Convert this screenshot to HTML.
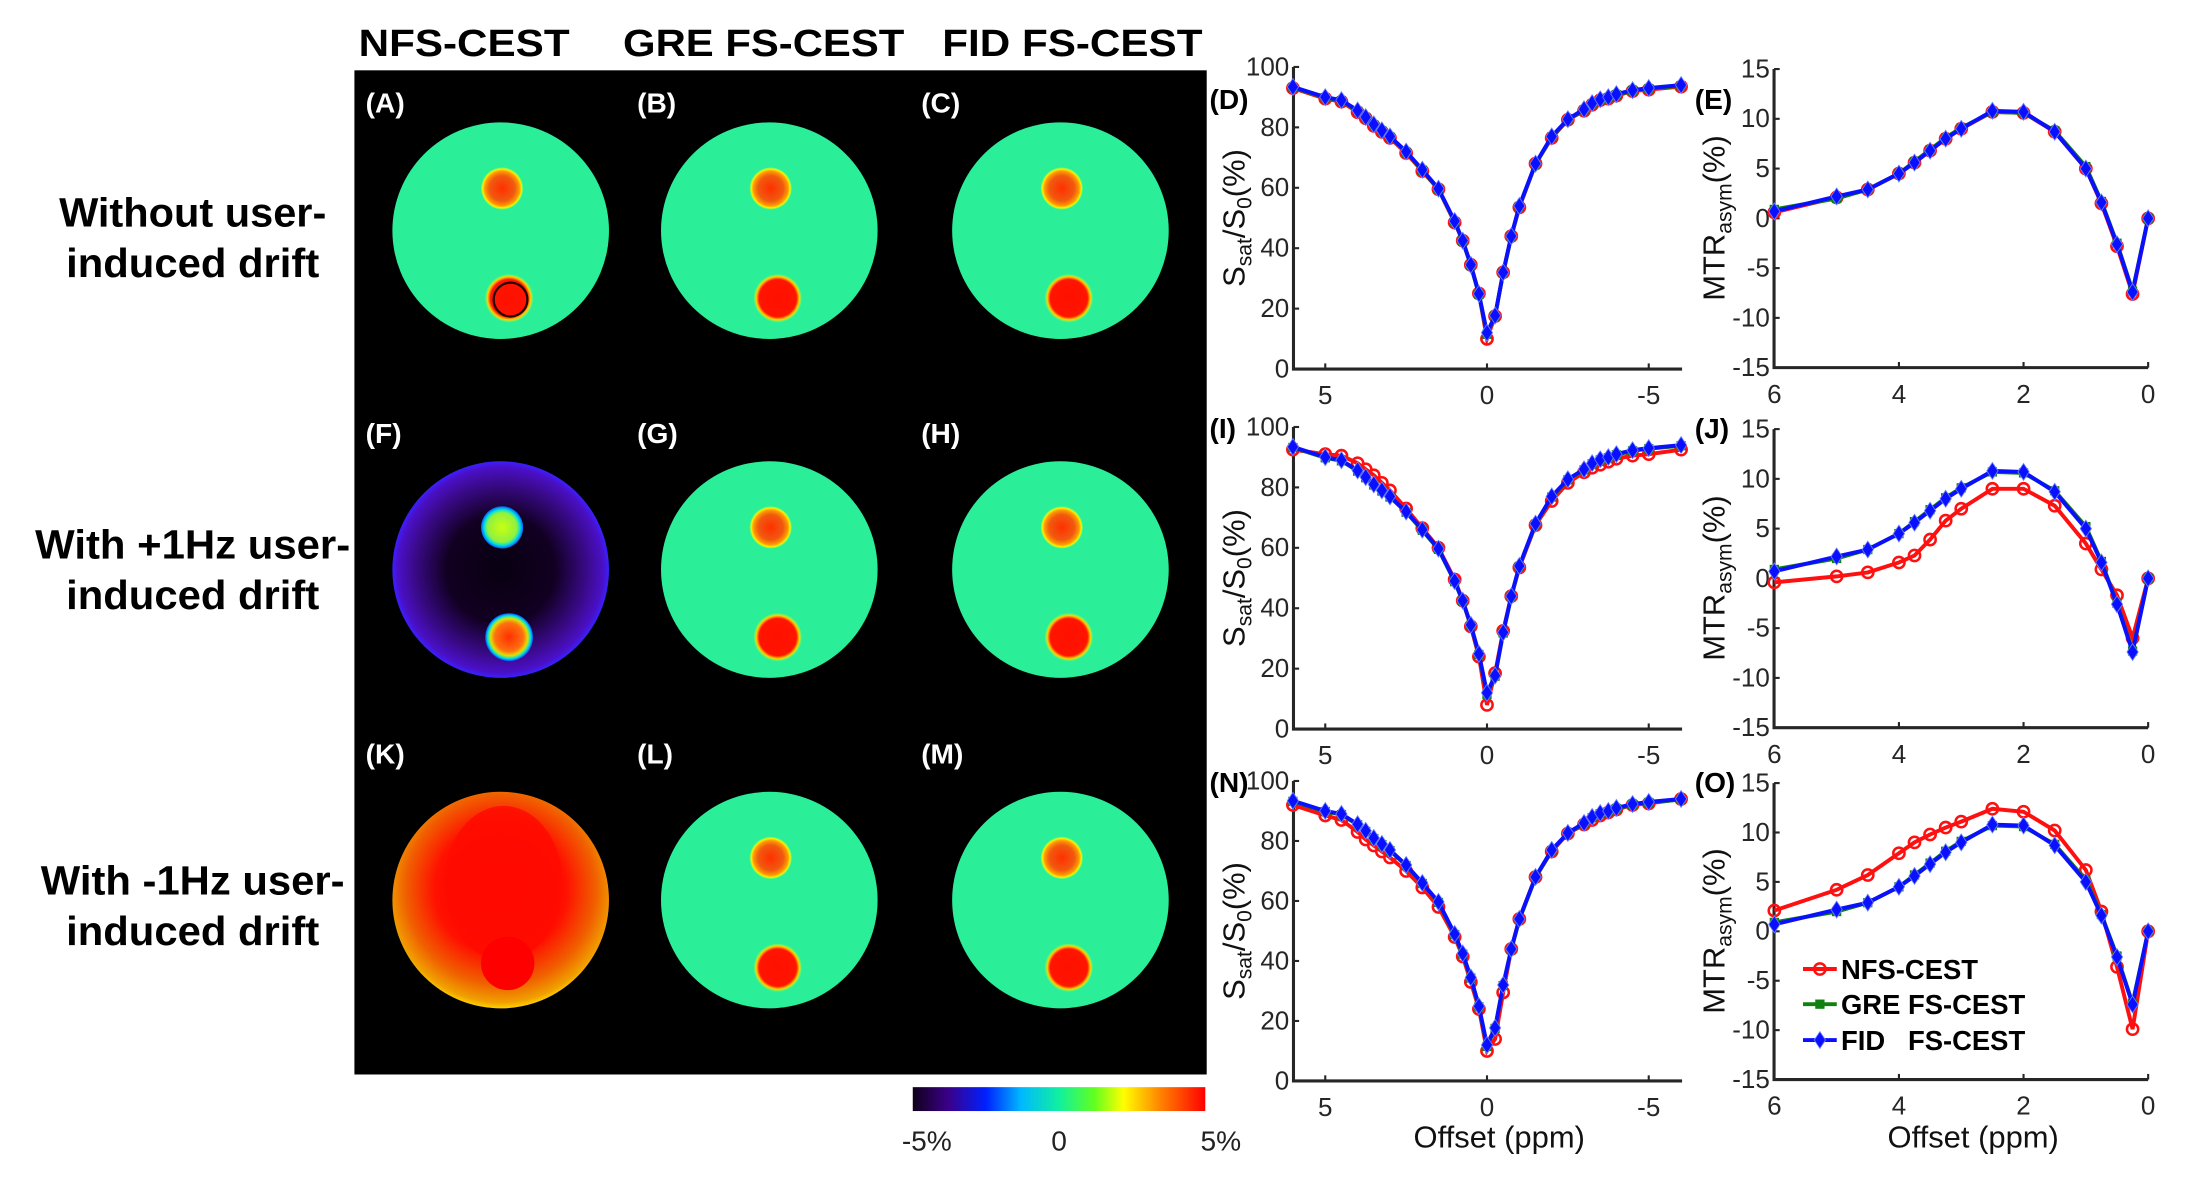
<!DOCTYPE html>
<html><head><meta charset="utf-8"><style>
html,body{margin:0;padding:0;background:#fff;}
svg{display:block;font-family:"Liberation Sans",Arial,sans-serif;}
</style></head><body>
<svg id="fig" width="2194" height="1178" viewBox="0 0 1560 837.6" preserveAspectRatio="none" xmlns="http://www.w3.org/2000/svg">
<defs>
<linearGradient id="cbar" x1="0" x2="1" y1="0" y2="0">
<stop offset="0" stop-color="#10001a"/><stop offset="0.12" stop-color="#3a0088"/><stop offset="0.25" stop-color="#0020ff"/><stop offset="0.37" stop-color="#00b8ff"/><stop offset="0.5" stop-color="#10f0a0"/><stop offset="0.62" stop-color="#60ff20"/><stop offset="0.72" stop-color="#ffff00"/><stop offset="0.85" stop-color="#ff8000"/><stop offset="1" stop-color="#ff0000"/>
</linearGradient>
<radialGradient id="spotTop"><stop offset="0" stop-color="#ff3000"/><stop offset="0.6" stop-color="#f05a10"/><stop offset="0.82" stop-color="#ff9a00"/><stop offset="0.92" stop-color="#ffee00"/><stop offset="1" stop-color="#30ff90"/></radialGradient>
<radialGradient id="spotBot"><stop offset="0" stop-color="#ff1000"/><stop offset="0.78" stop-color="#ff1500"/><stop offset="0.9" stop-color="#ffd000"/><stop offset="1" stop-color="#30ff90"/></radialGradient>
<radialGradient id="purple"><stop offset="0" stop-color="#080010"/><stop offset="0.5" stop-color="#120022"/><stop offset="0.8" stop-color="#3a0a8a"/><stop offset="0.95" stop-color="#4a10c8"/><stop offset="1" stop-color="#3a20ff"/></radialGradient>
<radialGradient id="fspotT"><stop offset="0" stop-color="#c8ff10"/><stop offset="0.7" stop-color="#90f040"/><stop offset="0.85" stop-color="#00e0e0"/><stop offset="1" stop-color="#0060ff"/></radialGradient>
<radialGradient id="fspotB"><stop offset="0" stop-color="#ff3000"/><stop offset="0.6" stop-color="#ff7010"/><stop offset="0.78" stop-color="#e0e000"/><stop offset="0.9" stop-color="#00e0e0"/><stop offset="1" stop-color="#0050ff"/></radialGradient>
<radialGradient id="orange" cx="0.5" cy="0.45" r="0.55"><stop offset="0" stop-color="#ff0000"/><stop offset="0.55" stop-color="#ff1000"/><stop offset="0.8" stop-color="#f06000"/><stop offset="0.95" stop-color="#f0a000"/><stop offset="1" stop-color="#ffd000"/></radialGradient>
</defs>
<rect x="0" y="0" width="1560" height="837.6" fill="#fff"/>
<rect x="252" y="50" width="606" height="714" fill="#000"/>
<g id="maps"></g>
<g id="labels"></g>
<g id="plots"></g>
</svg>
<script>
// ---------------- chart data ----------------
const zOffsets = [6,5,4.5,4,3.75,3.5,3.25,3,2.5,2,1.5,1,0.75,0.5,0.25,0,-0.25,-0.5,-0.75,-1,-1.5,-2,-2.5,-3,-3.25,-3.5,-3.75,-4,-4.5,-5,-6];
const mtrOffsets = [6,5,4.5,4,3.75,3.5,3.25,3,2.5,2,1.5,1,0.75,0.5,0.25,0];
const zFid = [93.4,90,89,85.6,83.4,81,79,77,72,66,59.7,49,42.5,34.5,24.9,12,17.7,32,44,54,68,77,82.7,86,88,89.3,90,91,92.3,93,94];
const zGre = [93.2,89.8,88.8,85.4,83.2,80.8,78.8,76.8,71.8,65.8,59.5,48.8,42.3,34.3,24.7,11.5,17.5,31.8,43.8,53.8,67.8,76.8,82.5,85.8,87.8,89.1,89.8,90.8,92.1,92.8,93.8];
const zNfsRow1 = [93,89.5,88.5,85,83,80.5,78.5,76.5,71.5,65.5,59.5,48.5,42.5,34.5,25,10,17.5,32,44,53.5,68,76.5,82.5,85.5,87.5,89,89.5,90.5,92,92.5,93.5];
const zNfsRow2 = [92.5,91,90.5,88,86,84,81.5,79,73,66.5,60,49.5,42.5,34,24,8,18.5,32.5,44,53.5,67.5,75.5,81.5,85,86.5,87.5,88.5,89.5,90.5,91,92.5];
const zNfsRow3 = [92,88.5,87,83,80.5,78.5,76.5,74.5,70,64.5,58,48,41.5,33,24,10,14,29.5,44,54,68,76.5,82.5,85.5,87,88.5,89.5,90.5,92,92.5,94];
const mtrFid = [0.7,2.2,2.9,4.5,5.6,6.8,8,9,10.8,10.7,8.7,5,1.6,-2.6,-7.4,0];
const mtrGre = [0.9,2,2.9,4.5,5.7,6.9,8.1,9.1,10.7,10.6,8.8,5.2,1.7,-2.5,-7.3,0];
const mtrNfsRow1 = [0.6,2.1,2.9,4.5,5.6,6.8,8,9,10.7,10.6,8.7,5,1.5,-2.8,-7.6,0];
const mtrNfsRow2 = [-0.4,0.2,0.6,1.6,2.3,3.9,5.8,7,9,9,7.3,3.5,0.9,-1.7,-6,0];
const mtrNfsRow3 = [2.1,4.2,5.7,7.9,9,9.8,10.5,11.1,12.4,12.1,10.2,6.2,2,-3.6,-9.9,0];
const zTicks = [0,20,40,60,80,100];
const zXTicks = [5,0,-5];
const mtrTicks = [-15,-10,-5,0,5,10,15];
const mtrXTicks = [6,4,2,0];
const seriesNames = ['NFS-CEST','GRE FS-CEST','FID   FS-CEST'];
const zRows = [[zNfsRow1,zGre,zFid],[zNfsRow2,zGre,zFid],[zNfsRow3,zGre,zFid]];
const mtrRows = [[mtrNfsRow1,mtrGre,mtrFid],[mtrNfsRow2,mtrGre,mtrFid],[mtrNfsRow3,mtrGre,mtrFid]];

const NS='http://www.w3.org/2000/svg';
function mk(tag,attrs,parent){const e=document.createElementNS(NS,tag);for(const k in attrs)e.setAttribute(k,attrs[k]);if(parent)parent.appendChild(e);return e;}

// ---------------- maps ----------------
const maps=document.getElementById('maps');
const colX=[356,547,754], rowY=[164,405,640], R=77;
const letters=[['(A)','(B)','(C)'],['(F)','(G)','(H)'],['(K)','(L)','(M)']];
const letterX=[260,453,655], letterY=[80,315,543];
for(let r=0;r<3;r++)for(let c=0;c<3;c++){
  const cx=colX[c], cy=rowY[r];
  const g=mk('g',{},maps);
  
  
  let fill='#2aee98', st='url(#spotTop)', sb='url(#spotBot)';
  if(r===1&&c===0){fill='url(#purple)';st='url(#fspotT)';sb='url(#fspotB)';}
  if(r===2&&c===0){fill='url(#orange)';}
  mk('circle',{cx:cx,cy:cy,r:R,fill:fill},g);
  if(r===2&&c===0){
    mk('ellipse',{cx:cx+2,cy:cy-12,rx:42,ry:55,fill:'#ff0a00',opacity:0.85},g);
    mk('circle',{cx:cx+5,cy:cy+45,r:19,fill:'#ff0000'},g);
  } else {
    mk('circle',{cx:cx+1,cy:cy-30,r:15,fill:st},g);
    mk('circle',{cx:cx+6,cy:cy+48,r:17,fill:sb},g);
    if(r===0&&c===0) mk('circle',{cx:cx+7,cy:cy+49,r:12,fill:'none',stroke:'#200',"stroke-width":1.6},g);
  }
  const t=mk('text',{x:letterX[c],y:letterY[r],fill:'#fff','font-size':20,'font-weight':'bold'},maps);
  t.textContent=letters[r][c];
  
  
}
// ---------------- static labels ----------------
const lab=document.getElementById('labels');
function txt(x,y,s,size,opts,name){const t=mk('text',Object.assign({x:x,y:y,'font-size':size,fill:'#000'},opts||{}),lab);t.textContent=s;return t;}
txt(255,40,'NFS-CEST',27,{'font-weight':'bold',textLength:150,lengthAdjust:'spacingAndGlyphs'},'column-title-nfs');
txt(443,40,'GRE FS-CEST',27,{'font-weight':'bold',textLength:200,lengthAdjust:'spacingAndGlyphs'},'column-title-gre');
txt(670,40,'FID FS-CEST',27,{'font-weight':'bold',textLength:185,lengthAdjust:'spacingAndGlyphs'},'column-title-fid');
const rowLab=[['Without user-','induced drift',161,197,190,180],['With +1Hz user-','induced drift',397,433,224,180],['With -1Hz user-','induced drift',636,672,216,180]];
rowLab.forEach((l,i)=>{
  txt(137,l[2],l[0],29,{'font-weight':'bold','text-anchor':'middle',textLength:l[4],lengthAdjust:'spacingAndGlyphs'},'row-label-'+(i+1));
  txt(137,l[3],l[1],29,{'font-weight':'bold','text-anchor':'middle',textLength:l[5],lengthAdjust:'spacingAndGlyphs'},'row-label-'+(i+1));
});
const cb=mk('rect',{x:649,y:773,width:208,height:17,fill:'url(#cbar)'},lab);

txt(659,818,'-5%',20,{'text-anchor':'middle',fill:'#222'},'colorbar-min-label');
txt(753,818,'0',20,{'text-anchor':'middle',fill:'#222'},'colorbar-zero-label');
txt(868,818,'5%',20,{'text-anchor':'middle',fill:'#222'},'colorbar-max-label');

// ---------------- plots ----------------
const plots=document.getElementById('plots');
const rowTop=[47.6,303.6,555.3], rowBot=[262.4,518.4,768.6];
const colors=['#ff1010','#108010','#0a10ff'];
const zxScale=p=>1057.3-23.0*p;
const mxScale=p=>1527.4-44.3*p;
const panelL=[['(D)','(E)'],['(I)','(J)'],['(N)','(O)']];
function marker(g,k,x,y){
  let m;
  if(k===0) m=mk('circle',{cx:x,cy:y,r:4,fill:'none',stroke:colors[0],'stroke-width':1.8},g);
  else if(k===1) m=mk('rect',{x:x-3.3,y:y-3.3,width:6.6,height:6.6,fill:colors[1]},g);
  else m=mk('path',{d:`M${x} ${y-6}L${x+4} ${y}L${x} ${y+6}L${x-4} ${y}Z`,fill:colors[2],stroke:'#6a80ff','stroke-width':0.6},g);
  
  
}
function axes(g,x0,x1,top,bot,yTicks,yMin,yMax,xTicks,xs){
  const ys=v=>bot-(v-yMin)/(yMax-yMin)*(bot-top);
  mk('path',{d:`M${x0} ${top}V${bot}H${x1}`,fill:'none',stroke:'#262626','stroke-width':2.2},g);
  yTicks.forEach(v=>{const y=ys(v);mk('line',{x1:x0,x2:x0+4,y1:y,y2:y,stroke:'#262626','stroke-width':1.5},g);
    const t=mk('text',{x:x0-3,y:y+6,'font-size':18.5,fill:'#262626','text-anchor':'end'},g);t.textContent=v;
    });
  xTicks.forEach(v=>{const x=xs(v);mk('line',{x1:x,x2:x,y1:bot,y2:bot-4,stroke:'#262626','stroke-width':1.5},g);
    const t=mk('text',{x:x,y:bot+25,'font-size':18.5,fill:'#262626','text-anchor':'middle'},g);t.textContent=v;
    });
  return ys;
}
for(let r=0;r<3;r++){
  const top=rowTop[r], bot=rowBot[r];
  const gz=mk('g',{},plots);
  
  
  const ysz=axes(gz,919.7,1196,top,bot,zTicks,0,100,zXTicks,zxScale);
  const yl=mk('text',{transform:`translate(885 ${(top+bot)/2}) rotate(-90)`,'font-size':22,fill:'#111','text-anchor':'middle'},gz);
  yl.innerHTML='S<tspan font-size="15" dy="5">sat</tspan><tspan dy="-5">/S</tspan><tspan font-size="15" dy="5">0</tspan><tspan dy="-5">(%)</tspan>';
  
  zRows[r].forEach((vals,k)=>{
    const pts=zOffsets.map((p,i)=>[zxScale(p),ysz(vals[i])]);
    const ln=mk('polyline',{points:pts.map(p=>p.join(',')).join(' '),fill:'none',stroke:colors[k],'stroke-width':2.8},gz);
    
    pts.forEach(p=>marker(gz,k,p[0],p[1]));
  });
  const gm=mk('g',{},plots);
  
  
  const mtop=top+1.5, mbot=bot-1;
  const ysm=axes(gm,1261.4,1527.4,mtop,mbot,mtrTicks,-15,15,mtrXTicks,mxScale);
  const ml=mk('text',{transform:`translate(1226 ${(top+bot)/2}) rotate(-90)`,'font-size':22,fill:'#111','text-anchor':'middle'},gm);
  ml.innerHTML='MTR<tspan font-size="15" dy="5">asym</tspan><tspan dy="-5">(%)</tspan>';
  
  mtrRows[r].forEach((vals,k)=>{
    const pts=mtrOffsets.map((p,i)=>[mxScale(p),ysm(vals[i])]);
    const ln=mk('polyline',{points:pts.map(p=>p.join(',')).join(' '),fill:'none',stroke:colors[k],'stroke-width':2.8},gm);
    
    pts.forEach(p=>marker(gm,k,p[0],p[1]));
  });
  const pl=mk('text',{x:860,y:top+(r===0?30:8),'font-size':20,'font-weight':'bold'},plots);pl.textContent=panelL[r][0];
  
  const pl2=mk('text',{x:1205,y:top+(r===0?30:8),'font-size':20,'font-weight':'bold'},plots);pl2.textContent=panelL[r][1];
  
}
const xt1=mk('text',{x:1066,y:816,'font-size':22,fill:'#111','text-anchor':'middle'},plots);xt1.textContent='Offset (ppm)';

const xt2=mk('text',{x:1403,y:816,'font-size':22,fill:'#111','text-anchor':'middle'},plots);xt2.textContent='Offset (ppm)';

const lg=mk('g',{},plots);


const legY=[689,714,739.5];
seriesNames.forEach((n,k)=>{
  const e=mk('g',{},lg);
  
  
  mk('line',{x1:1282,x2:1306,y1:legY[k],y2:legY[k],stroke:colors[k],'stroke-width':2.8},e);
  marker(e,k,1294,legY[k]);
  const t=mk('text',{x:1309,y:legY[k]+7,'font-size':19.5,'font-weight':'bold',fill:'#000'},e);
  t.setAttribute('style','white-space:pre');
  t.textContent=n;
});
</script>
</body></html>
